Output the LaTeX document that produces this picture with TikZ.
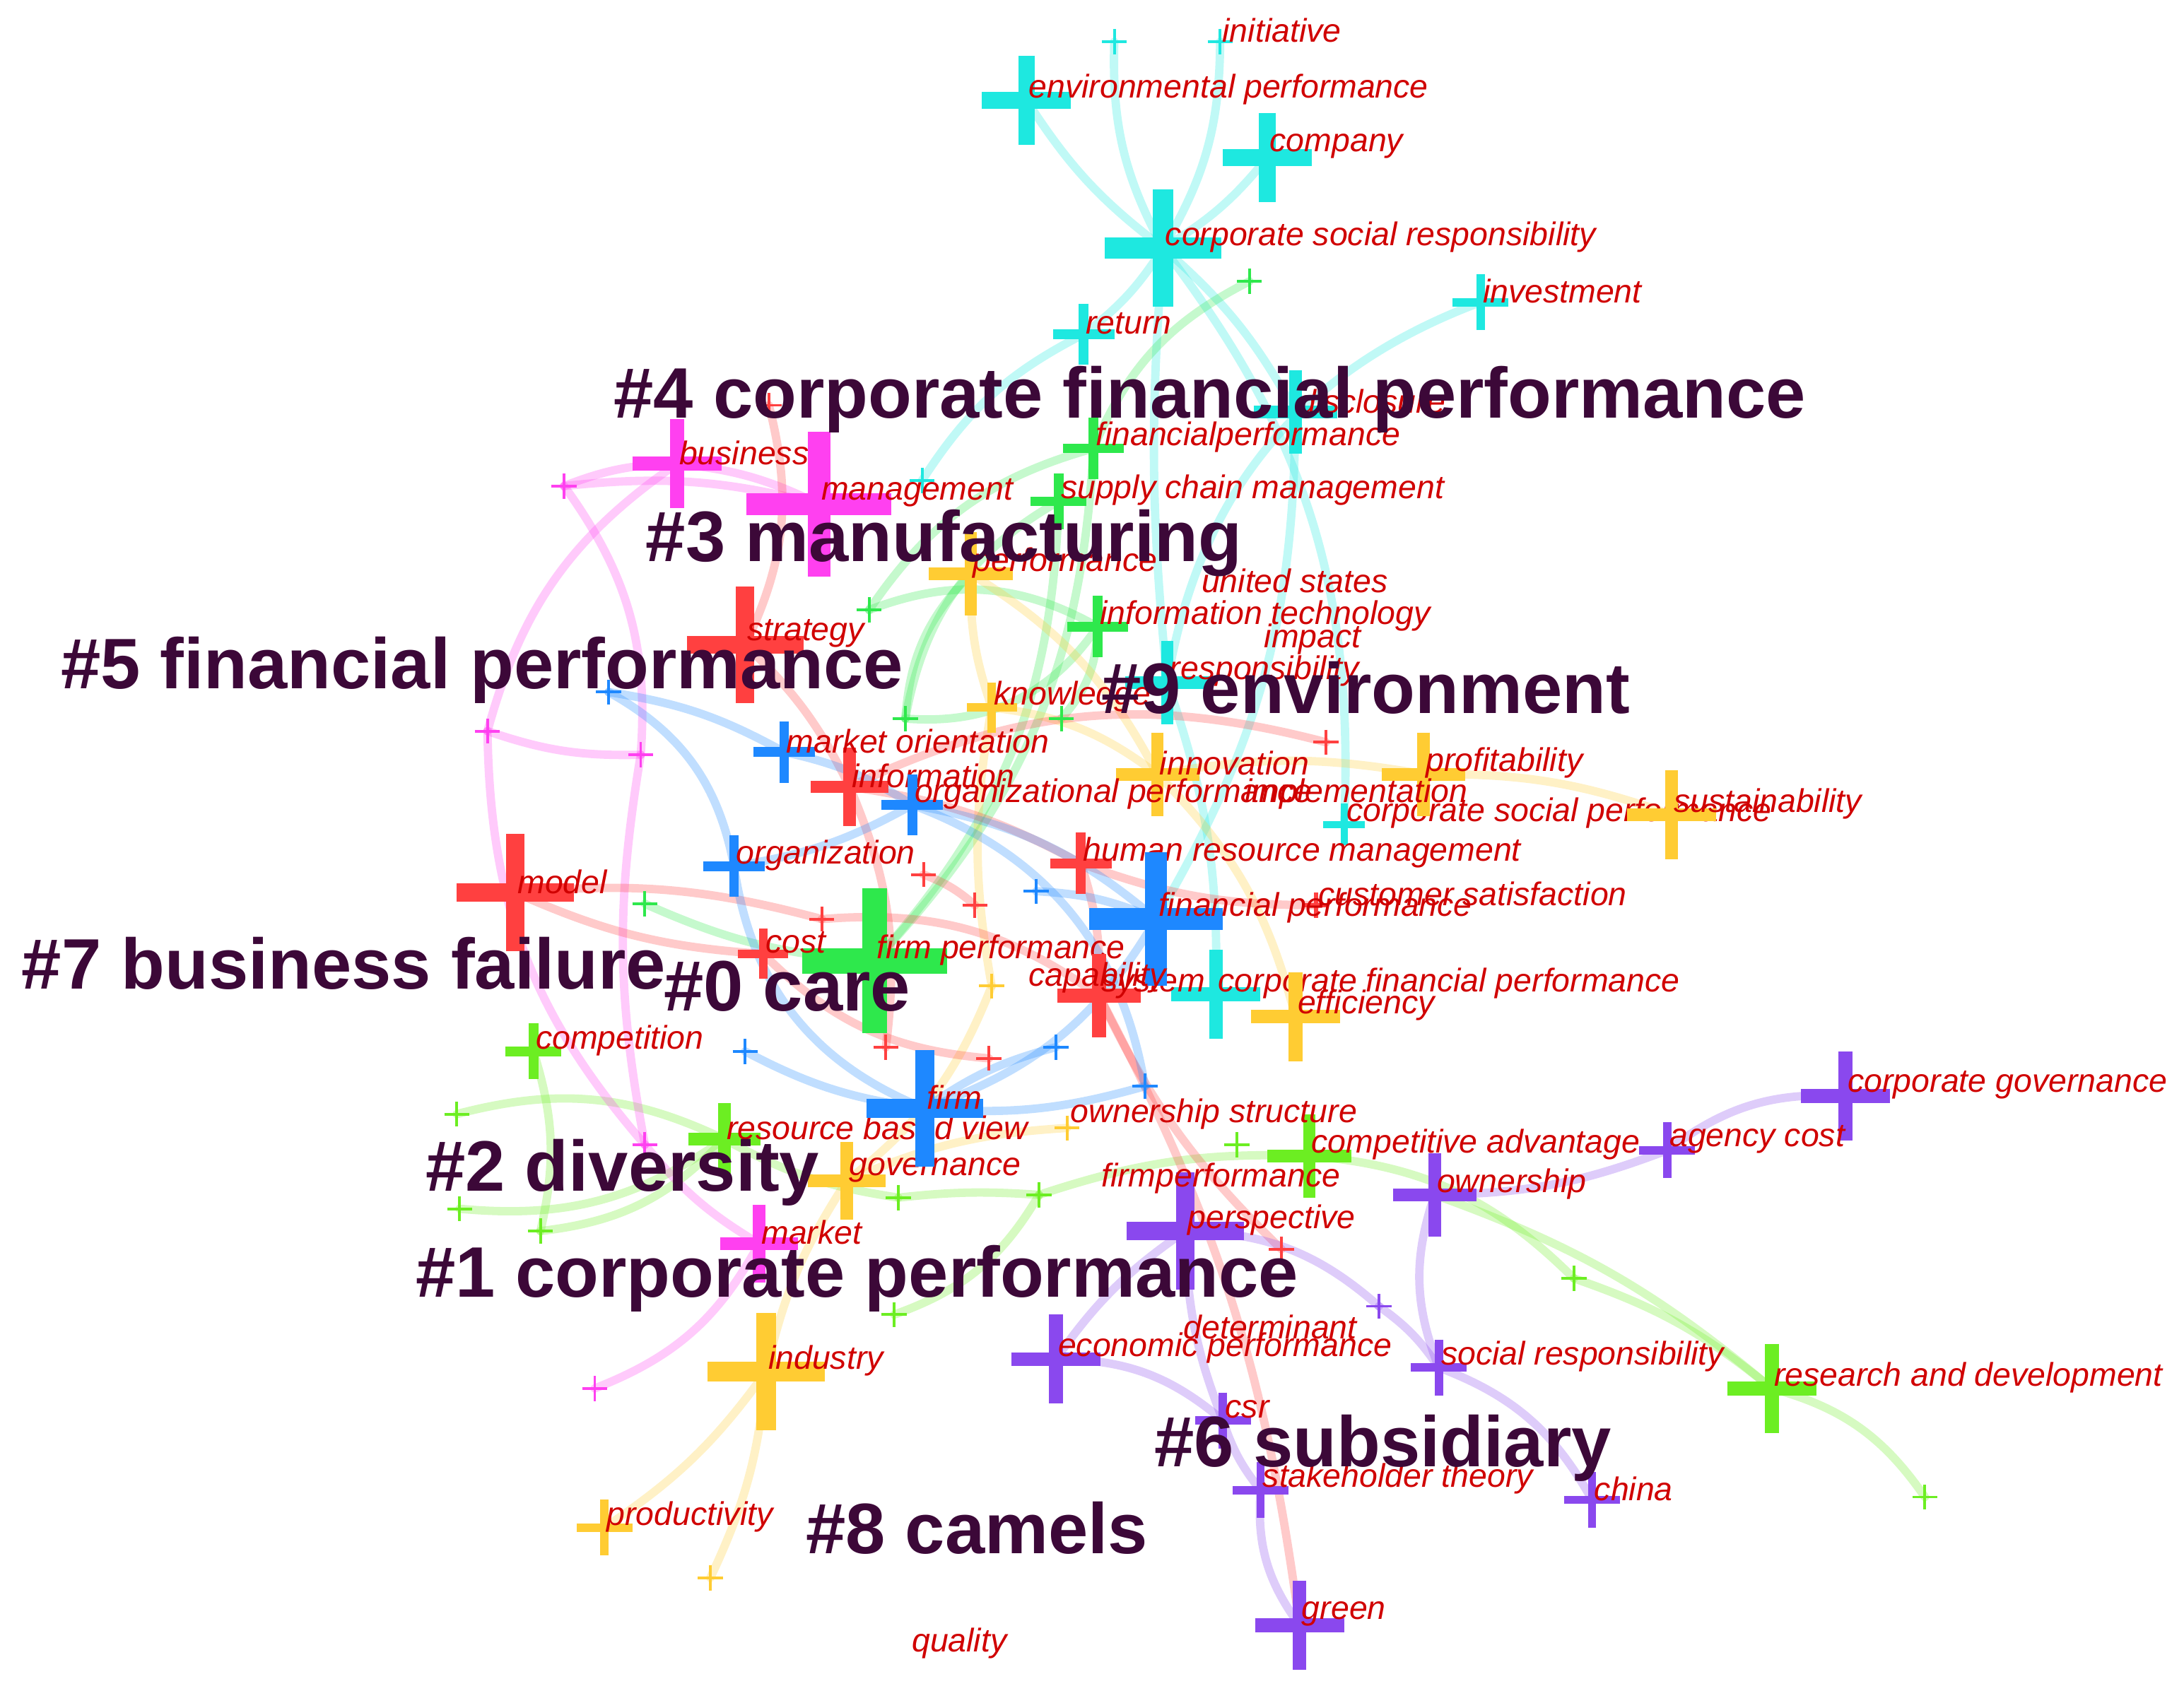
\documentclass[tikz,border=0pt]{standalone}
\usepackage{fontspec}
\setmainfont{Liberation Sans}
\definecolor{cC}{HTML}{1EE8E0}
\definecolor{cG}{HTML}{2EE84C}
\definecolor{cL}{HTML}{6CEE22}
\definecolor{cY}{HTML}{FFCC33}
\definecolor{cM}{HTML}{FF40F0}
\definecolor{cR}{HTML}{FF4040}
\definecolor{cB}{HTML}{1E88FF}
\definecolor{cP}{HTML}{8A48EE}
\definecolor{labred}{HTML}{D00000}
\definecolor{clus}{HTML}{3C0838}
\newcommand{\kw}[6]{%
  \coordinate (#2) at (#3);
  \draw[#1, line width={#5*0.1mm}] (#2) ++(-#4,0) -- ++({2*#4},0) (#2) ++(0,-#4) -- ++(0,{2*#4});
  \path (#2) ++(1,-8) node[lab, anchor=west] (#2-l) {#6};}
\begin{document}
\begin{tikzpicture}[x=0.01cm,y=-0.01cm,
  lab/.style={text=labred, font=\fontsize{6.7pt}{7.5pt}\selectfont\itshape, inner sep=0pt},
  clu/.style={text=clus, font=\fontsize{14.6pt}{16pt}\selectfont\bfseries, inner sep=0pt, anchor=west},
  ed/.style={line width=0.06cm, opacity=0.28, line cap=round}]
\useasboundingbox (0,0) rectangle (1568,1214);
% coordinates for edges
\coordinate (csr) at (835,178); \coordinate (envp) at (737,72); \coordinate (comp) at (910,113);
\coordinate (init) at (876,30); \coordinate (c1) at (800,30); \coordinate (ret) at (778,240);
\coordinate (disc) at (930,296); \coordinate (inv) at (1063,217); \coordinate (c2) at (662,345);
\coordinate (resp) at (838,490); \coordinate (csp) at (965,592); \coordinate (cfp) at (873,714);
\coordinate (finp) at (785,322); \coordinate (scm) at (760,360); \coordinate (it) at (788,450);
\coordinate (g1) at (897,202); \coordinate (g2) at (624,438); \coordinate (g3) at (650,516); \coordinate (g4) at (762,516);
\coordinate (fp) at (628,690); \coordinate (g5) at (463,649);
\coordinate (cadv) at (940,830); \coordinate (l1) at (888,822); \coordinate (rd) at (1272,997);
\coordinate (l2) at (1130,918); \coordinate (l3) at (1382,1075); \coordinate (l4) at (746,858); \coordinate (l5) at (645,860);
\coordinate (l6) at (642,944); \coordinate (l7) at (328,800); \coordinate (l8) at (330,868); \coordinate (l9) at (388,884);
\coordinate (compet) at (383,755); \coordinate (rbv) at (520,818);
\coordinate (perf) at (697,412); \coordinate (know) at (712,508); \coordinate (innov) at (831,556);
\coordinate (prof) at (1022,556); \coordinate (sust) at (1200,585); \coordinate (eff) at (930,730);
\coordinate (gov) at (608,848); \coordinate (ind) at (550,985); \coordinate (prod) at (434,1097);
\coordinate (y1) at (510,1133); \coordinate (y2) at (766,810); \coordinate (capab) at (712,708);
\coordinate (bus) at (486,333); \coordinate (mgmt) at (588,362); \coordinate (m1) at (405,349);
\coordinate (m2) at (350,525); \coordinate (m3) at (460,542); \coordinate (m4) at (463,822); \coordinate (m5) at (427,997);
\coordinate (mkt) at (545,893);
\coordinate (strat) at (535,463); \coordinate (info) at (610,565); \coordinate (model) at (370,641);
\coordinate (cost) at (548,685); \coordinate (hrm) at (776,620); \coordinate (sys) at (789,715);
\coordinate (cs) at (945,650); \coordinate (impl) at (952,533); \coordinate (r0) at (552,291);
\coordinate (r1) at (663,628); \coordinate (r2) at (590,660); \coordinate (r3) at (700,650); \coordinate (r4) at (710,760);
\coordinate (r5) at (636,752); \coordinate (r6) at (920,897);
\coordinate (mo) at (563,540); \coordinate (op) at (655,578); \coordinate (org) at (527,622);
\coordinate (finperf) at (830,660); \coordinate (firm) at (664,796);
\coordinate (b1) at (437,497); \coordinate (b2) at (535,755); \coordinate (b3) at (744,640); \coordinate (b4) at (758,752); \coordinate (b5) at (822,780);
\coordinate (cg) at (1325,787); \coordinate (ac) at (1197,826); \coordinate (own) at (1030,858);
\coordinate (persp) at (851,884); \coordinate (ecp) at (758,976); \coordinate (sr) at (1033,982);
\coordinate (csrp) at (878,1020); \coordinate (st) at (905,1070); \coordinate (china) at (1143,1077);
\coordinate (green) at (933,1167); \coordinate (p1) at (990,938);
% edges
\draw[ed,cC] (csr) to[bend left=10] (envp); \draw[ed,cC] (csr) to[bend right=10] (comp);
\draw[ed,cC] (csr) to[bend right=15] (init); \draw[ed,cC] (csr) to[bend left=15] (c1);
\draw[ed,cC] (csr) to[bend left=10] (ret); \draw[ed,cC] (csr) to[bend left=10] (disc);
\draw[ed,cC] (inv) to[bend right=30] (resp); \draw[ed,cC] (ret) to[bend right=15] (c2);
\draw[ed,cC] (csr) to[bend right=5] (resp); \draw[ed,cC] (csr) to[bend left=20] (csp);
\draw[ed,cC] (resp) to[bend left=10] (cfp); \draw[ed,cC] (disc) to[bend left=15] (finperf);
\draw[ed,cG] (g1) to[bend right=20] (finp); \draw[ed,cG] (finp) to[bend right=20] (g2);
\draw[ed,cG] (scm) to[bend right=25] (g3); \draw[ed,cG] (it) to[bend left=20] (g4);
\draw[ed,cG] (g2) to[bend left=25] (it); \draw[ed,cG] (finp) to[bend left=20] (fp);
\draw[ed,cG] (scm) to[bend left=20] (fp); \draw[ed,cG] (g3) to[bend right=30] (it);
\draw[ed,cG] (g5) to[bend right=10] (fp); \draw[ed,cG] (perf) to[bend right=20] (g3);
\draw[ed,cL] (rd) to[bend right=10] (l2); \draw[ed,cL] (rd) to[bend left=20] (l3);
\draw[ed,cL] (l2) to[bend right=20] (cadv); \draw[ed,cL] (cadv) to[bend right=10] (l4);
\draw[ed,cL] (l4) to[bend right=5] (l5); \draw[ed,cL] (l5) to[bend left=10] (rbv);
\draw[ed,cL] (rbv) to[bend right=20] (l7); \draw[ed,cL] (rbv) to[bend left=20] (l8);
\draw[ed,cL] (l9) to[bend right=20] (rbv); \draw[ed,cL] (compet) to[bend left=15] (l9);
\draw[ed,cL] (l6) to[bend right=20] (l4); \draw[ed,cL] (own) to[bend left=10] (rd);
\draw[ed,cY] (ind) to[bend left=10] (prod); \draw[ed,cY] (ind) to[bend left=10] (y1);
\draw[ed,cY] (innov) to[bend left=10] (prof); \draw[ed,cY] (prof) to[bend left=10] (sust);
\draw[ed,cY] (perf) to[bend left=15] (innov); \draw[ed,cY] (know) to[bend left=15] (innov);
\draw[ed,cY] (innov) to[bend left=15] (eff); \draw[ed,cY] (gov) to[bend left=10] (y2);
\draw[ed,cY] (perf) to[bend right=10] (know); \draw[ed,cY] (capab) to[bend left=10] (know);
\draw[ed,cY] (gov) to[bend right=15] (capab); \draw[ed,cY] (ind) to[bend left=10] (gov);
\draw[ed,cM] (bus) to[bend right=10] (m1); \draw[ed,cM] (bus) to[bend left=10] (mgmt);
\draw[ed,cM] (m1) to[bend left=10] (mgmt); \draw[ed,cM] (m2) to[bend left=20] (bus);
\draw[ed,cM] (m2) to[bend right=10] (m3); \draw[ed,cM] (m2) to[bend right=20] (m4);
\draw[ed,cM] (m3) to[bend right=10] (m4); \draw[ed,cM] (m4) to[bend right=10] (mkt);
\draw[ed,cM] (mkt) to[bend left=20] (m5); \draw[ed,cM] (m1) to[bend left=20] (m3);
\draw[ed,cR] (strat) to[bend left=10] (info); \draw[ed,cR] (model) to[bend right=10] (cost);
\draw[ed,cR] (info) to[bend left=10] (hrm); \draw[ed,cR] (hrm) to[bend left=10] (sys);
\draw[ed,cR] (cost) to[bend right=20] (r4); \draw[ed,cR] (r2) to[bend left=20] (sys);
\draw[ed,cR] (r1) to[bend left=10] (r3); \draw[ed,cR] (info) to[bend left=15] (r5);
\draw[ed,cR] (sys) to[bend left=10] (green); \draw[ed,cR] (cs) to[bend left=10] (hrm);
\draw[ed,cR] (impl) to[bend right=20] (info); \draw[ed,cR] (r6) to[bend left=10] (sys);
\draw[ed,cR] (strat) to[bend right=20] (r0); \draw[ed,cR] (model) to[bend left=10] (r2);
\draw[ed,cB] (mo) to[bend left=10] (op); \draw[ed,cB] (org) to[bend right=10] (op);
\draw[ed,cB] (op) to[bend left=15] (finperf); \draw[ed,cB] (finperf) to[bend left=20] (firm);
\draw[ed,cB] (firm) to[bend right=10] (b5); \draw[ed,cB] (org) to[bend right=30] (firm);
\draw[ed,cB] (b1) to[bend left=25] (org); \draw[ed,cB] (b1) to[bend left=10] (mo);
\draw[ed,cB] (b3) to[bend left=10] (finperf); \draw[ed,cB] (b4) to[bend right=10] (firm);
\draw[ed,cB] (b2) to[bend right=10] (firm); \draw[ed,cB] (op) to[bend left=30] (b5);
\draw[ed,cP] (cg) to[bend right=20] (ac); \draw[ed,cP] (ac) to[bend left=10] (own);
\draw[ed,cP] (own) to[bend right=20] (sr); \draw[ed,cP] (persp) to[bend left=20] (p1);
\draw[ed,cP] (persp) to[bend right=10] (ecp); \draw[ed,cP] (ecp) to[bend left=20] (csrp);
\draw[ed,cP] (csrp) to[bend right=10] (st); \draw[ed,cP] (st) to[bend right=20] (green);
\draw[ed,cP] (p1) to[bend left=10] (sr); \draw[ed,cP] (sr) to[bend left=20] (china);
\draw[ed,cP] (persp) to[bend right=10] (csrp);
% keywords
\kw{cC}{x1}{876,30}{9}{2}{initiative}
\kw{cC}{x2}{800,30}{9}{2}{}
\kw{cC}{x3}{737,72}{32}{12}{environmental performance}
\kw{cC}{x4}{910,113}{32}{12}{company}
\kw{cC}{x5}{835,178}{42}{15}{corporate social responsibility}
\kw{cC}{x6}{1063,217}{20}{6}{investment}
\kw{cC}{x7}{778,240}{22}{7}{return}
\kw{cC}{x8}{930,296}{30}{9}{disclosure}
\kw{cC}{x9}{662,345}{9}{2}{}
\kw{cC}{x10}{838,490}{30}{9}{responsibility}
\kw{cC}{x11}{965,592}{15}{5}{corporate social performance}
\kw{cC}{x12}{873,714}{32}{10}{corporate financial performance}
\kw{cG}{x13}{897,202}{9}{2}{}
\kw{cG}{x14}{785,322}{22}{7}{financialperformance}
\kw{cG}{x15}{760,360}{20}{7}{supply chain management}
\kw{cG}{x16}{788,450}{22}{7}{information technology}
\kw{cG}{x17}{624,438}{9}{2}{}
\kw{cG}{x18}{650,516}{9}{2}{}
\kw{cG}{x19}{762,516}{9}{2}{}
\kw{cG}{x20}{628,690}{52}{18}{firm performance}
\kw{cG}{x21}{463,649}{9}{2}{}
\kw{cL}{x22}{940,830}{30}{9}{competitive advantage}
\kw{cL}{x23}{888,822}{9}{2}{}
\kw{cL}{x24}{1272,997}{32}{10}{research and development}
\kw{cL}{x25}{1130,918}{9}{2}{}
\kw{cL}{x26}{1382,1075}{9}{2}{}
\kw{cL}{x27}{746,858}{9}{2}{}
\kw{cL}{x28}{645,860}{9}{2}{}
\kw{cL}{x29}{642,944}{9}{2}{}
\kw{cL}{x30}{328,800}{9}{2}{}
\kw{cL}{x31}{330,868}{9}{2}{}
\kw{cL}{x32}{388,884}{9}{2}{}
\kw{cL}{x33}{383,755}{20}{7}{competition}
\kw{cL}{x34}{520,818}{26}{9}{resource based view}
\kw{cY}{x35}{697,412}{30}{9}{performance}
\kw{cY}{x36}{712,508}{18}{6}{knowledge}
\kw{cY}{x37}{831,556}{30}{9}{innovation}
\kw{cY}{x38}{1022,556}{30}{9}{profitability}
\kw{cY}{x39}{1200,585}{32}{9}{sustainability}
\kw{cY}{x40}{930,730}{32}{10}{efficiency}
\kw{cY}{x41}{608,848}{28}{9}{governance}
\kw{cY}{x42}{550,985}{42}{14}{industry}
\kw{cY}{x43}{434,1097}{20}{6}{productivity}
\kw{cY}{x44}{510,1133}{9}{2}{}
\kw{cY}{x45}{766,810}{9}{2}{}
\kw{cY}{x46}{712,708}{9}{2}{}
\kw{cM}{x47}{486,333}{32}{10}{business}
\kw{cM}{x48}{588,362}{52}{16}{management}
\kw{cM}{x49}{405,349}{9}{2}{}
\kw{cM}{x50}{350,525}{9}{2}{}
\kw{cM}{x51}{460,542}{9}{2}{}
\kw{cM}{x52}{463,822}{9}{2}{}
\kw{cM}{x53}{427,997}{9}{2}{}
\kw{cM}{x54}{545,893}{28}{9}{market}
\kw{cR}{x55}{535,463}{42}{13}{strategy}
\kw{cR}{x56}{610,565}{28}{9}{information}
\kw{cR}{x57}{370,641}{42}{13}{model}
\kw{cR}{x58}{548,685}{18}{6}{cost}
\kw{cR}{x59}{776,620}{22}{7}{human resource management}
\kw{cR}{x60}{789,715}{30}{10}{system}
\kw{cR}{x61}{945,650}{9}{3}{customer satisfaction}
\kw{cR}{x62}{952,533}{9}{2}{}
\kw{cR}{x63}{552,291}{9}{2}{}
\kw{cR}{x64}{663,628}{9}{2}{}
\kw{cR}{x65}{590,660}{9}{2}{}
\kw{cR}{x66}{700,650}{9}{2}{}
\kw{cR}{x67}{710,760}{9}{2}{}
\kw{cR}{x68}{636,752}{9}{2}{}
\kw{cR}{x69}{920,897}{9}{2}{}
\kw{cB}{x70}{563,540}{22}{7}{market orientation}
\kw{cB}{x71}{655,578}{22}{7}{organizational performance}
\kw{cB}{x72}{527,622}{22}{7}{organization}
\kw{cB}{x73}{830,660}{48}{16}{financial performance}
\kw{cB}{x74}{664,796}{42}{14}{firm}
\kw{cB}{x75}{437,497}{9}{2}{}
\kw{cB}{x76}{535,755}{9}{2}{}
\kw{cB}{x77}{744,640}{9}{2}{}
\kw{cB}{x78}{758,752}{9}{2}{}
\kw{cB}{x79}{822,780}{9}{2}{}
\kw{cP}{x80}{1325,787}{32}{10}{corporate governance}
\kw{cP}{x81}{1197,826}{20}{6}{agency cost}
\kw{cP}{x82}{1030,858}{30}{9}{ownership}
\kw{cP}{x83}{851,884}{42}{13}{perspective}
\kw{cP}{x84}{758,976}{32}{10}{economic performance}
\kw{cP}{x85}{1033,982}{20}{6}{social responsibility}
\kw{cP}{x86}{878,1020}{20}{6}{csr}
\kw{cP}{x87}{905,1070}{20}{6}{stakeholder theory}
\kw{cP}{x88}{1143,1077}{20}{6}{china}
\kw{cP}{x89}{933,1167}{32}{10}{green}
\kw{cP}{x90}{990,938}{9}{2}{}
% labels without visible marker
\node[lab,anchor=west] (cap) at (738,702) {capability};
\node[lab,anchor=west] (us) at (862,417) {united states};
\node[lab,anchor=west] (imp) at (907,459) {impact};
\node[lab,anchor=west] (impl2) at (893,570) {implementation};
\node[lab,anchor=west] (det) at (849,953) {determinant};
\node[lab,anchor=west] (os) at (768,800) {ownership structure};
\node[lab,anchor=west] (fpf) at (790,846) {firmperformance};
\node[lab,anchor=west] (qual) at (654,1180) {quality};
% cluster labels
\node[clu] (k4) at (440,287) {\#4 corporate financial performance};
\node[clu] (k3) at (463,390) {\#3 manufacturing};
\node[clu] (k5) at (43,481) {\#5 financial performance};
\node[clu] (k9) at (790,494) {\#9 environment};
\node[clu] (k7) at (15,692) {\#7 business failure};
\node[clu] (k0) at (476,708) {\#0 care};
\node[clu] (k2) at (305,842) {\#2 diversity};
\node[clu] (k1) at (298,918) {\#1 corporate performance};
\node[clu] (k6) at (828,1040) {\#6 subsidiary};
\node[clu] (k8) at (578,1097) {\#8 camels};
\end{tikzpicture}
\end{document}
